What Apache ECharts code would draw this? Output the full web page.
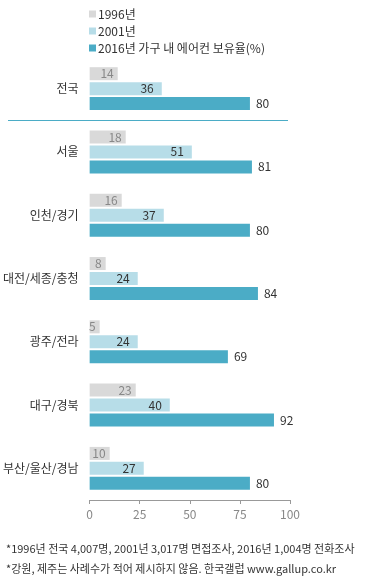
<!DOCTYPE html>
<html>
<head>
<meta charset="utf-8">
<script src="https://cdn.jsdelivr.net/npm/echarts@6/dist/echarts.min.js"></script>
<style>
html,body{margin:0;padding:0;background:#fff;}
#chart{width:378px;height:583px;}
</style>
</head>
<body>
<div id="chart"></div>
<script>
var regions = ['전국', '서울', '인천/경기', '대전/세종/충청', '광주/전라', '대구/경북', '부산/울산/경남'];
var seriesNames = ['1996년', '2001년', '2016년 가구 내 에어컨 보유율(%)'];
var values1996 = [14, 18, 16, 8, 5, 23, 10];
var values2001 = [36, 51, 37, 24, 24, 40, 27];
var values2016 = [80, 81, 80, 84, 69, 92, 80];
var xTicks = [0, 25, 50, 75, 100];
var notes = [
    '*1996년 전국 4,007명, 2001년 3,017명 면접조사, 2016년 1,004명 전화조사',
    '*강원, 제주는 사례수가 적어 제시하지 않음. 한국갤럽 www.gallup.co.kr'
];

var chart = echarts.init(document.getElementById('chart'));
var font = '"Noto Sans CJK KR", sans-serif';

var option = {
    textStyle: { fontFamily: font },
    animation: false,
    color: ['#d9d9d9', '#b7dde8', '#4bacc6'],
    legend: {
        orient: 'vertical',
        left: 84,
        top: 3,
        itemWidth: 7,
        itemHeight: 7,
        itemGap: 5,
        icon: 'rect',
        textStyle: { fontSize: 12, color: '#333', fontFamily: font, padding: [0, 0, 0, -3] },
        data: seriesNames
    },
    grid: { left: 88, right: 88, top: 57, bottom: 83, containLabel: false },
    xAxis: {
        type: 'value',
        min: xTicks[0],
        max: xTicks[xTicks.length - 1],
        interval: xTicks[1] - xTicks[0],
        splitLine: { show: false },
        axisLine: { show: true, lineStyle: { color: '#999' } },
        axisTick: { show: true, length: 4, lineStyle: { color: '#999' } },
        axisLabel: { color: '#888', fontSize: 12, margin: 8, fontFamily: font }
    },
    yAxis: {
        type: 'category',
        inverse: true,
        data: regions,
        axisLine: { show: false },
        axisTick: { show: false },
        axisLabel: { color: '#333', fontSize: 12, margin: 11, fontFamily: font }
    },
    series: [
        {
            name: seriesNames[0], type: 'bar', data: values1996,
            barWidth: 13, barGap: '15%',
            label: { show: true, position: 'insideRight', distance: 4, color: '#888', fontSize: 12, fontFamily: font }
        },
        {
            name: seriesNames[1], type: 'bar', data: values2001,
            barWidth: 13, barGap: '15%',
            label: { show: true, position: 'insideRight', distance: 8, color: '#333', fontSize: 12, fontFamily: font }
        },
        {
            name: seriesNames[2], type: 'bar', data: values2016,
            barWidth: 13, barGap: '15%',
            label: { show: true, position: 'right', distance: 6, color: '#333', fontSize: 12, fontFamily: font }
        }
    ]
};
chart.setOption(option);

// 전국과 지역 사이 구분선
var y0 = chart.convertToPixel({ yAxisIndex: 0 }, regions[0]);
var y1 = chart.convertToPixel({ yAxisIndex: 0 }, regions[1]);
var sepY = Math.round((y0 + y1) / 2) + 0.5;
chart.setOption({
    graphic: [
        { type: 'line', shape: { x1: 8, y1: sepY, x2: 288, y2: sepY }, style: { stroke: '#4bacc6', lineWidth: 1 } },
        { type: 'text', left: 6, top: 543, style: { text: notes[0], fill: '#333', font: '11px ' + font } },
        { type: 'text', left: 6, top: 563, style: { text: notes[1], fill: '#333', font: '11px ' + font } }
    ]
});

window.onresize = function(){
    chart.resize();
};
</script>
</body>
</html>
